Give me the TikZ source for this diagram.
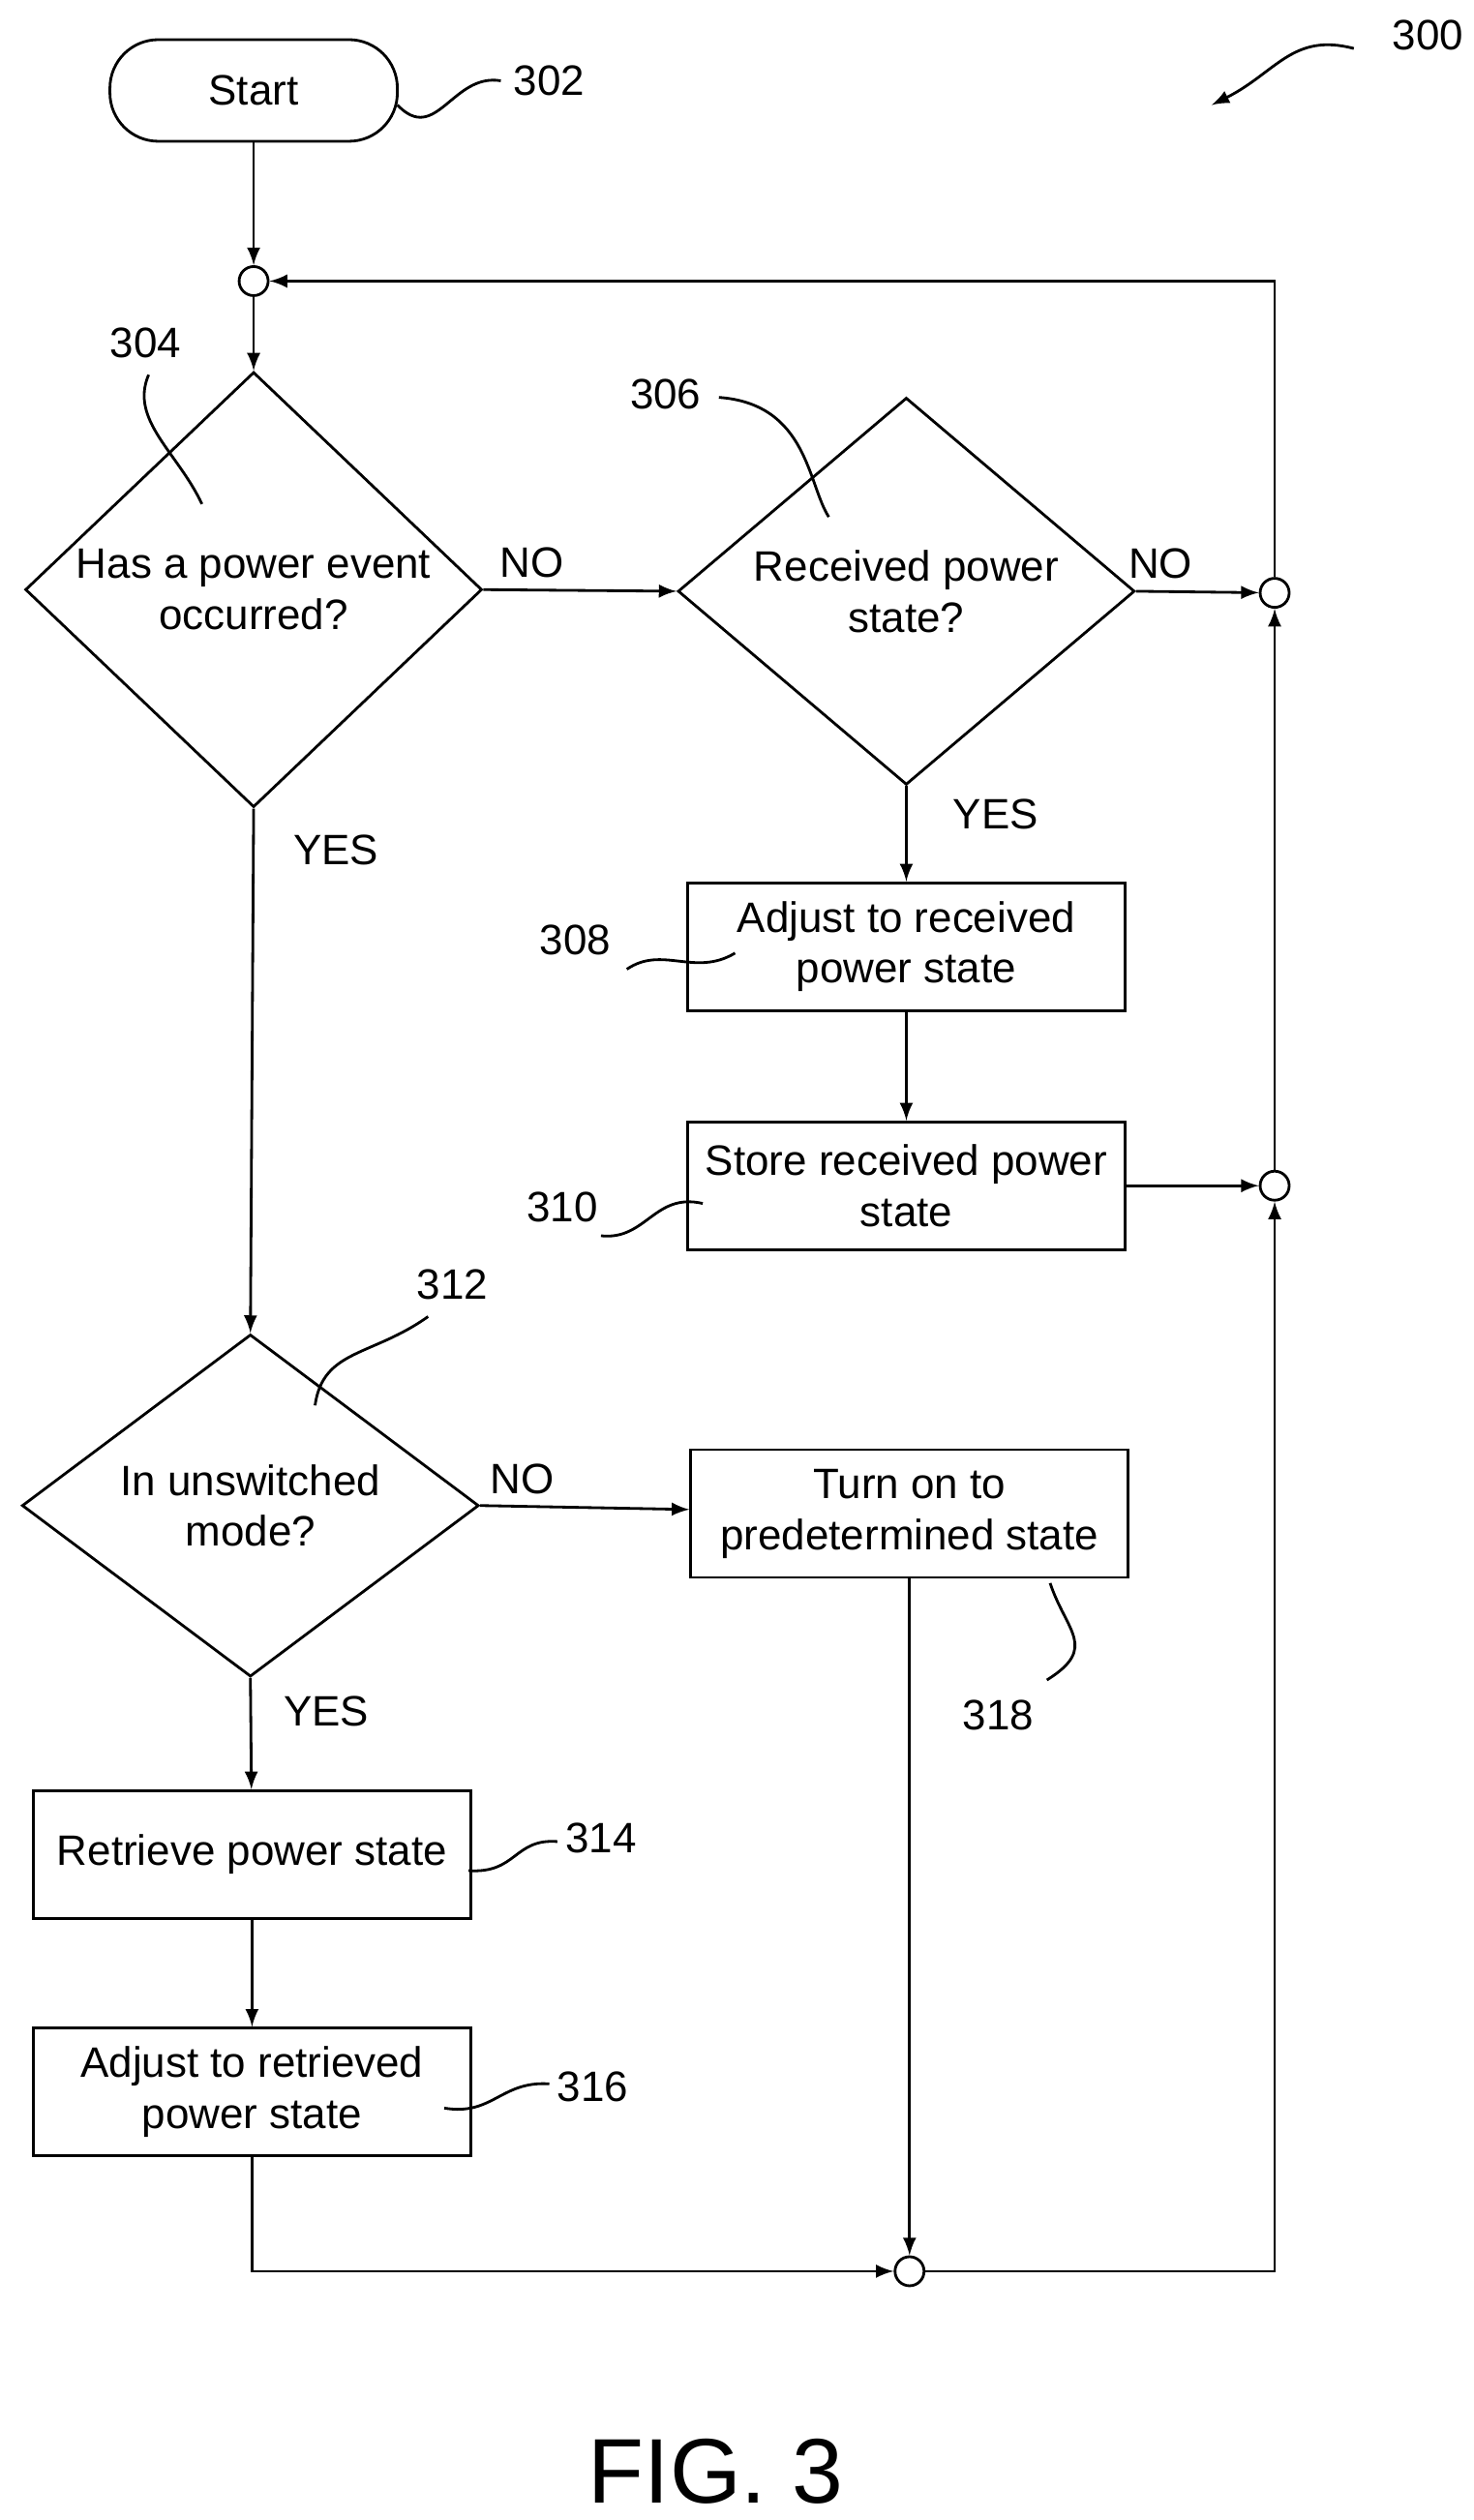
\documentclass[tikz,border=0pt]{standalone}
\usepackage{fontspec}
\setmainfont{Liberation Sans}
\usetikzlibrary{positioning, arrows, shapes.geometric, calc}

\tikzset{
    txt/.style={font=\fontsize{12.5}{15}\selectfont, align=center},
    box/.style={txt, draw, line width=0.8pt, minimum width=4.52cm, minimum height=1.32cm, inner sep=1pt},
    decision/.style={txt, draw, line width=0.8pt, diamond, minimum width=4.72cm, minimum height=3.5cm, inner sep=0pt},
    junction/.style={draw, line width=0.8pt, circle, minimum size=0.3cm, inner sep=0pt},
    flow/.style={line width=0.8pt, -latex},
    squiggle/.style={line width=0.8pt},
    ref/.style={font=\fontsize{12.5}{15}\selectfont}
}

\begin{document}
\begin{tikzpicture}[x=0.01669cm, y=-0.01669cm]
            \useasboundingbox (0,0) rectangle (912,1560);

            % main column
            \node[txt, draw, line width=0.8pt, rounded corners=0.5cm, minimum width=2.97cm, minimum height=1.05cm] (start) at (157,56) {Start};
            \node[junction] (join1) at (157,174) {};
            \node[decision] (event) at (157,365) {Has a power event\\occurred?};
            \node[decision] (received) at (561,366) {Received power\\state?};
            \node[junction] (join2) at (789,367) {};
            \node[box] (adjustrx) at (561,586) {Adjust to received\\power state};
            \node[box] (store) at (561,734) {Store received power\\state};
            \node[junction] (join3) at (789,734) {};
            \node[decision] (mode) at (155,932) {In unswitched\\mode?};
            \node[box] (turnon) at (563,937) {Turn on to\\predetermined state};
            \node[box] (retrieve) at (156,1148) {Retrieve power state};
            \node[box] (adjustrt) at (156,1295) {Adjust to retrieved\\power state};
            \node[junction] (join4) at (563,1406) {};

            % connectors
            \draw[flow] (start) -- (join1);
            \draw[flow] (join1) -- (event);
            \draw[flow] (event.east) -- node[ref, above, pos=0.25] {NO} (received.west);
            \draw[flow] (received.east) -- node[ref, above, pos=0.2] {NO} (join2);
            \draw[flow] (join2) |- (join1);
            \draw[flow] (received.south) -- node[ref, right, pos=0.3, xshift=10pt] {YES} (adjustrx);
            \draw[flow] (adjustrx) -- (store);
            \draw[flow] (store) -- (join3);
            \draw[flow] (join3) -- (join2);
            \draw[flow] (event.south) -- node[ref, right, pos=0.08, xshift=8pt] {YES} (mode.north);
            \draw[flow] (mode.east) -- node[ref, above, pos=0.2] {NO} (turnon);
            \draw[flow] (mode.south) -- node[ref, right, pos=0.3, xshift=6pt] {YES} (retrieve);
            \draw[flow] (retrieve) -- (adjustrt);
            \draw[flow] (adjustrt) |- (join4);
            \draw[flow] (turnon) -- (join4);
            \draw[flow] (join4) -| (join3);

            % reference numerals
            \node[ref] (n300) at (884,22) {300};
            \node[ref] (n302) at (340,50) {302};
            \node[ref] (n304) at (90,212) {304};
            \node[ref] (n306) at (412,244) {306};
            \node[ref] (n308) at (356,582) {308};
            \node[ref] (n310) at (348,747) {310};
            \node[ref] (n312) at (280,795) {312};
            \node[ref] (n314) at (372,1138) {314};
            \node[ref] (n316) at (367,1292) {316};
            \node[ref] (n318) at (618,1062) {318};

            \draw[squiggle, -latex] (838,30) .. controls (800,20) and (790,45) .. (750,65);
            \draw[squiggle] (246,65) .. controls (270,90) and (280,45) .. (310,50);
            \draw[squiggle] (92,232) .. controls (80,260) and (110,280) .. (125,312);
            \draw[squiggle] (445,246) .. controls (500,250) and (500,300) .. (513,320);
            \draw[squiggle] (388,600) .. controls (410,585) and (430,605) .. (455,590);
            \draw[squiggle] (372,765) .. controls (400,768) and (405,738) .. (435,745);
            \draw[squiggle] (265,815) .. controls (230,840) and (200,835) .. (195,870);
            \draw[squiggle] (290,1158) .. controls (320,1160) and (318,1138) .. (345,1140);
            \draw[squiggle] (275,1305) .. controls (305,1310) and (310,1288) .. (340,1290);
            \draw[squiggle] (650,980) .. controls (660,1010) and (680,1020) .. (648,1040);

            \node[font=\fontsize{27}{30}\selectfont] (caption) at (443,1530) {FIG. 3};
        \end{tikzpicture}
\end{document}
